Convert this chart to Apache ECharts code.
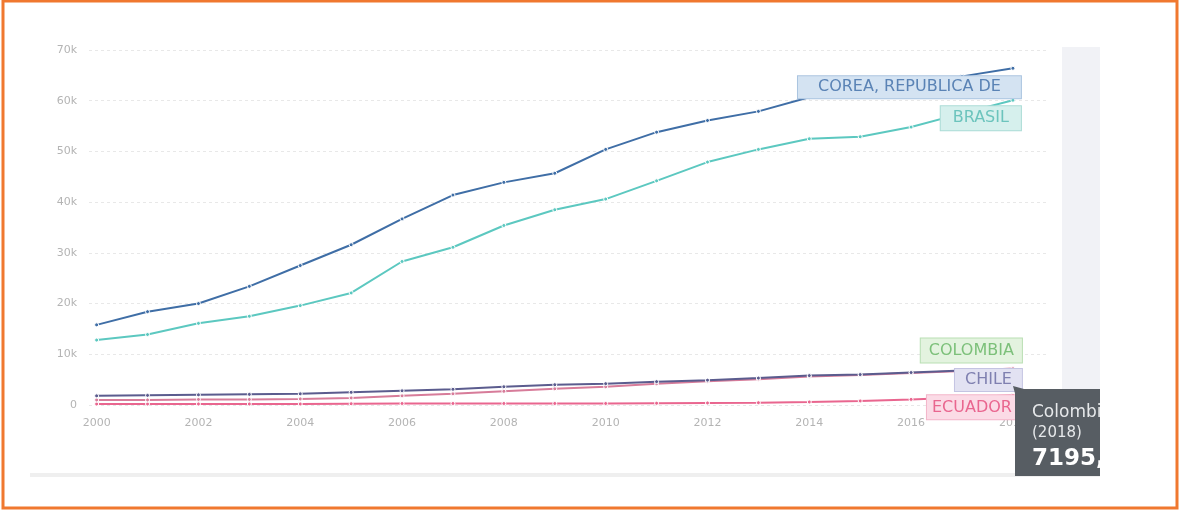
<!DOCTYPE html>
<html>
<head>
<meta charset="utf-8">
<script src="https://cdn.jsdelivr.net/npm/echarts@6/dist/echarts.min.js"></script>
<style>
  html, body { margin: 0; padding: 0; background: #ffffff; }
  #chart { width: 1185px; height: 512px; }
</style>
</head>
<body>
<div id="chart"></div>
<script>
// Scientific and technical journal articles, thousands per year
const years = [2000, 2001, 2002, 2003, 2004, 2005, 2006, 2007, 2008, 2009,
               2010, 2011, 2012, 2013, 2014, 2015, 2016, 2017, 2018];
const xTickYears = [2000, 2002, 2004, 2006, 2008, 2010, 2012, 2014, 2016, 2018];

const korea    = [15.8, 18.4, 20.0, 23.4, 27.5, 31.6, 36.7, 41.4, 43.9, 45.7,
                  50.4, 53.8, 56.1, 57.9, 60.7, 62.0, 63.4, 64.8, 66.4];
const brazil   = [12.8, 13.9, 16.1, 17.5, 19.6, 22.1, 28.3, 31.1, 35.4, 38.5,
                  40.6, 44.2, 47.9, 50.4, 52.5, 52.9, 54.8, 57.5, 60.1];
const chile    = [1.8, 1.9, 2.0, 2.1, 2.2, 2.5, 2.8, 3.1, 3.6, 4.0,
                  4.2, 4.6, 4.9, 5.3, 5.8, 6.0, 6.4, 6.8, 6.9];
const colombia = [1.0, 1.0, 1.1, 1.1, 1.2, 1.4, 1.8, 2.2, 2.7, 3.2,
                  3.6, 4.2, 4.7, 5.1, 5.6, 5.9, 6.3, 6.7, 7.195];
const ecuador  = [0.2, 0.2, 0.2, 0.2, 0.2, 0.25, 0.3, 0.3, 0.3, 0.3,
                  0.3, 0.35, 0.4, 0.45, 0.6, 0.8, 1.1, 1.5, 1.9];

const seriesNames = ['COREA, REPUBLICA DE', 'BRASIL', 'COLOMBIA', 'CHILE', 'ECUADOR'];

const FONT = 'DejaVu Sans';

function pairs(arr) { return years.map((y, i) => [y, arr[i]]); }

function makeSeries(name, arr, color, opts) {
  return {
    name: name,
    type: 'line',
    data: pairs(arr),
    symbol: 'circle',
    symbolSize: 4,
    showSymbol: true,
    lineStyle: { color: color, width: 2 },
    itemStyle: { color: color, borderColor: '#ffffff', borderWidth: 1 },
    emphasis: { disabled: true },
    z: opts.z || 2,
    endLabel: Object.assign({
      show: true,
      formatter: name,
      fontFamily: FONT,
      fontSize: 16,
      lineHeight: 16,
      align: 'right',
      verticalAlign: 'middle',
      distance: 0,
      borderWidth: 1
    }, opts.label)
  };
}

const chart = echarts.init(document.getElementById('chart'), null, { renderer: 'canvas' });

const tipValue = Math.round(colombia[colombia.length - 1] * 1000).toString();
const tipYear = years[years.length - 1];
const TIP_Z = 50;

chart.setOption({
  animation: false,
  backgroundColor: '#ffffff',
  grid: { left: 89, right: 139, top: 50, bottom: 107 },
  xAxis: {
    type: 'value',
    min: 1999.85,
    max: 2018.65,
    axisLine: { show: false },
    axisTick: { show: false },
    splitLine: { show: false },
    axisLabel: {
      customValues: xTickYears,
      formatter: v => String(v),
      color: '#b4b4b4',
      fontFamily: FONT,
      fontSize: 11,
      margin: 13
    }
  },
  yAxis: {
    type: 'value',
    min: 0,
    max: 70,
    interval: 10,
    axisLine: { show: false },
    axisTick: { show: false },
    splitLine: { lineStyle: { color: '#e8e8e8', type: [3, 3], width: 1 } },
    axisLabel: {
      formatter: v => (v === 0 ? '0' : v + 'k'),
      color: '#b4b4b4',
      fontFamily: FONT,
      fontSize: 11,
      margin: 12
    }
  },
  series: [
    makeSeries(seriesNames[4], ecuador, '#e9668f', {
      label: { color: '#e9668f', backgroundColor: '#fbdbe6', borderColor: '#f3b5c9',
               padding: [4, 5, 4, 5], offset: [4, 12] }
    }),
    makeSeries(seriesNames[2], colombia, '#d77c9a', {
      label: { color: '#7cc07a', backgroundColor: '#e3f3df', borderColor: '#b9dfb3',
               padding: [4, 8, 4, 8], offset: [9, -18] }
    }),
    makeSeries(seriesNames[3], chile, '#5b5c8e', {
      label: { color: '#7f80b0', backgroundColor: '#e2e2f2', borderColor: '#c4c4e2',
               padding: [3, 10, 3, 10], offset: [9, 10] }
    }),
    makeSeries(seriesNames[1], brazil, '#5cc8c0', {
      label: { color: '#6cc4bd', backgroundColor: '#d6f0ed', borderColor: '#abdcd6',
               padding: [4, 12, 4, 12], offset: [8, 18] }
    }),
    makeSeries(seriesNames[0], korea, '#3f6ea6', {
      z: 3,
      label: { color: '#5a83b5', backgroundColor: '#d4e3f2', borderColor: '#aac4e0',
               padding: [3, 20, 3, 20], offset: [8, 19] }
    })
  ],
  graphic: [
    // page frame
    {
      type: 'rect', z: 100, silent: true,
      shape: { x: 3, y: 1, width: 1174, height: 507 },
      style: { fill: 'none', stroke: '#f0782f', lineWidth: 3 }
    },
    // side strip
    {
      type: 'rect', z: -1, silent: true,
      shape: { x: 1062, y: 47, width: 38, height: 343 },
      style: { fill: '#f1f2f6' }
    },
    // bottom rule
    {
      type: 'rect', z: -1, silent: true,
      shape: { x: 30, y: 473, width: 1070, height: 4 },
      style: { fill: '#efefef' }
    },
    // tooltip for Colombia, last year
    {
      type: 'polygon', z: TIP_Z, silent: true,
      shape: { points: [[1013, 386], [1024, 389], [1016, 397]] },
      style: { fill: '#575d63' }
    },
    {
      type: 'rect', z: TIP_Z, silent: true,
      shape: { x: 1015, y: 389, width: 100, height: 87 },
      style: { fill: '#575d63' }
    },
    {
      type: 'text', z: TIP_Z + 1, silent: true, x: 1032, y: 413,
      style: { text: 'Colombia', fill: '#e6e8ea', fontFamily: FONT, fontSize: 17, verticalAlign: 'middle' }
    },
    {
      type: 'text', z: TIP_Z + 1, silent: true, x: 1032, y: 433,
      style: { text: '(' + tipYear + ')', fill: '#e6e8ea', fontFamily: FONT, fontSize: 15, verticalAlign: 'middle' }
    },
    {
      type: 'text', z: TIP_Z + 1, silent: true, x: 1032, y: 459,
      style: { text: tipValue + ',', fill: '#ffffff', fontFamily: FONT, fontSize: 23, fontWeight: 'bold', verticalAlign: 'middle' }
    },
    {
      type: 'rect', z: TIP_Z + 2, silent: true,
      shape: { x: 1100, y: 380, width: 75, height: 100 },
      style: { fill: '#ffffff' }
    }
  ]
});
</script>
</body>
</html>
